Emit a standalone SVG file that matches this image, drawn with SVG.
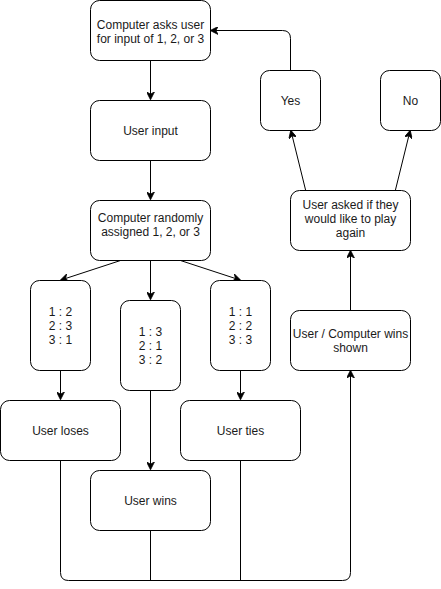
<svg xmlns="http://www.w3.org/2000/svg" width="441" height="589" viewBox="0 0 441 589">
<style>
.n rect{fill:#fff;stroke:#000;stroke-width:1}
.n text{font-family:"Liberation Sans",Arial,sans-serif;font-size:12px;fill:#1a1a1a;text-anchor:middle}
.e path{fill:none;stroke:#000;stroke-width:1}
</style>
<defs>
<marker id="a" viewBox="0 0 10 10" refX="9" refY="5" markerWidth="8" markerHeight="8" markerUnits="userSpaceOnUse" orient="auto">
<path d="M0,0 L10,5 L0,10 L3,5 Z" fill="#000" stroke="#000"/>
</marker>
</defs>
<g class="e">
<path d="M150.5,60.5 V99" marker-end="url(#a)"/>
<path d="M150.5,160.5 V199" marker-end="url(#a)"/>
<path d="M120.5,260.5 L61,280" marker-end="url(#a)"/>
<path d="M150.5,260.5 V299" marker-end="url(#a)"/>
<path d="M180.5,260.5 L240,280" marker-end="url(#a)"/>
<path d="M60.5,370.5 V399" marker-end="url(#a)"/>
<path d="M240.5,370.5 V399" marker-end="url(#a)"/>
<path d="M150.5,390.5 V469" marker-end="url(#a)"/>
<path d="M60.5,460.5 V572.5 Q60.5,580.5 68.5,580.5 H342.5 Q350.5,580.5 350.5,572.5 V371" marker-end="url(#a)"/>
<path d="M150.5,530.5 V580.5"/>
<path d="M240.5,460.5 V580.5"/>
<path d="M350.5,310.5 V251" marker-end="url(#a)"/>
<path d="M320.5,250.5 L291,131" marker-end="url(#a)"/>
<path d="M380.5,250.5 L410,131" marker-end="url(#a)"/>
<path d="M290.5,70.5 V38.5 Q290.5,30.5 282.5,30.5 H211" marker-end="url(#a)"/>
</g>
<g class="n" id="ask"><rect x="90.5" y="0.5" width="120" height="60" rx="9"/><text x="150.5" y="29">Computer asks user</text><text x="150.5" y="43">for input of 1, 2, or 3</text></g>
<g class="n" id="input"><rect x="90.5" y="100.5" width="120" height="60" rx="9"/><text x="150.5" y="134.5">User input</text></g>
<g class="n" id="random"><rect x="90.5" y="200.5" width="120" height="60" rx="9"/><text x="150.5" y="222">Computer randomly</text><text x="150.5" y="236">assigned 1, 2, or 3</text></g>
<g class="n" id="lose"><rect x="30.5" y="280.5" width="60" height="90" rx="9"/><text x="60.5" y="316">1 : 2</text><text x="60.5" y="330">2 : 3</text><text x="60.5" y="344">3 : 1</text></g>
<g class="n" id="win"><rect x="120.5" y="300.5" width="60" height="90" rx="9"/><text x="150.5" y="336">1 : 3</text><text x="150.5" y="350">2 : 1</text><text x="150.5" y="364">3 : 2</text></g>
<g class="n" id="tie"><rect x="210.5" y="280.5" width="60" height="90" rx="9"/><text x="240.5" y="316">1 : 1</text><text x="240.5" y="330">2 : 2</text><text x="240.5" y="344">3 : 3</text></g>
<g class="n" id="loses"><rect x="0.5" y="400.5" width="120" height="60" rx="9"/><text x="60.5" y="435">User loses</text></g>
<g class="n" id="ties"><rect x="180.5" y="400.5" width="120" height="60" rx="9"/><text x="240.5" y="435">User ties</text></g>
<g class="n" id="wins"><rect x="90.5" y="470.5" width="120" height="60" rx="9"/><text x="150.5" y="505">User wins</text></g>
<g class="n" id="shown"><rect x="290.5" y="310.5" width="120" height="60" rx="9"/><text x="350.5" y="338">User / Computer wins</text><text x="350.5" y="352">shown</text></g>
<g class="n" id="again"><rect x="290.5" y="190.5" width="120" height="60" rx="9"/><text x="350.5" y="209">User asked if they</text><text x="350.5" y="223">would like to play</text><text x="350.5" y="237">again</text></g>
<g class="n" id="yes"><rect x="260.5" y="70.5" width="60" height="60" rx="9"/><text x="290.5" y="105">Yes</text></g>
<g class="n" id="no"><rect x="380.5" y="70.5" width="60" height="60" rx="9"/><text x="410.5" y="105">No</text></g>
</svg>
